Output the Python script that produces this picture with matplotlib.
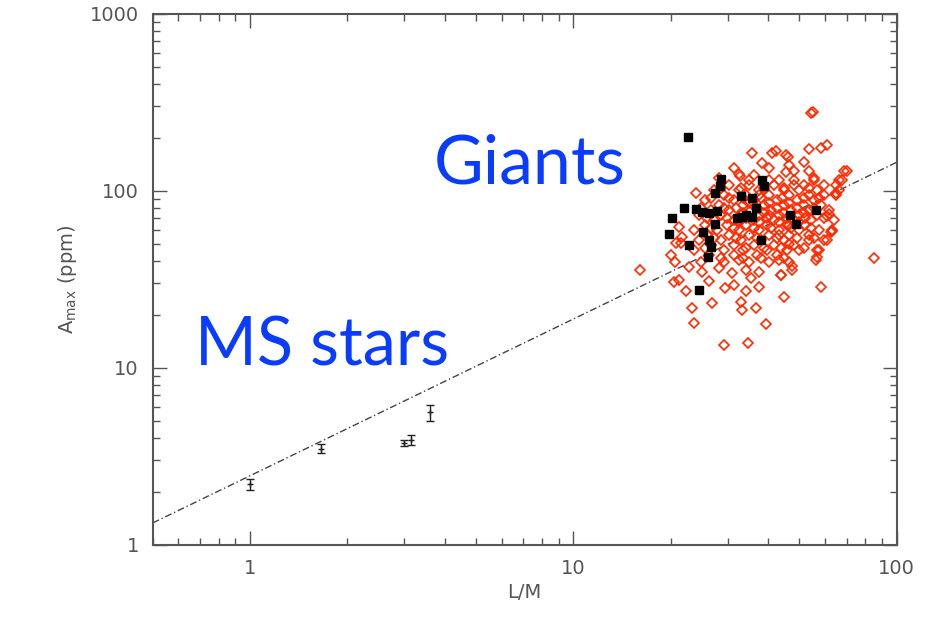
import numpy as np
import matplotlib
matplotlib.use("Agg")
import matplotlib.pyplot as plt
from matplotlib.ticker import LogLocator, NullFormatter, FixedLocator, FixedFormatter

# main-sequence stars (with error bars)
ms_lm = [1.0, 1.66, 3.0, 3.14, 3.6]
ms_amp = [2.2, 3.5, 3.75, 3.9, 5.6]
ms_err = [0.15, 0.2, 0.15, 0.25, 0.6]

# giants, black squares
blk_lm = [22.6, 28.6, 28.4, 27.4, 33.0, 35.7, 38.3, 38.9, 22.0, 24.0,
          25.0, 26.3, 27.8, 20.2, 27.4, 19.8, 25.2, 26.3, 22.8, 26.7,
          26.1, 24.5, 32.1, 34.2, 36.7, 38.0, 46.8, 48.8, 56.2, 33.2,
          35.7]
blk_amp = [202, 117, 107, 97.4, 93.7, 91.3, 115, 107, 80.2, 79.1,
           76.1, 75.1, 77.1, 70.4, 65.1, 57.1, 58.7, 52.9, 49.5, 48.3,
           42.4, 27.6, 70.4, 73.2, 80.2, 52.9, 73.2, 65.1, 78.1, 71.3,
           71.3]

# giants, red open diamonds
red_lm = [55.0, 35.7, 42.3, 45.4, 53.5, 58.5, 60.9, 70.1, 32.8, 24.0,
          66.2, 64.8, 60.9, 63.0, 56.6, 56.2, 85.0, 16.1, 21.2, 21.5,
          20.1, 20.6, 20.5, 21.2, 22.3, 23.3, 23.6, 26.9, 26.3, 29.2,
          34.7, 39.4, 36.7, 33.0, 33.2, 34.2, 29.5, 31.4, 37.5, 44.8,
          43.8, 47.4, 58.5, 22.8, 25.0, 31.0, 35.4, 21.7, 20.8, 24.8,
          28.2, 32.5, 34.2, 40.3, 38.3, 41.1, 46.1, 54.3, 53.5, 48.1,
          45.4, 67.6, 59.5, 55.4, 49.8, 43.2, 53.5, 62.5, 37.5, 32.5,
          # dense core
          30.3, 34.9, 41.7, 48.1, 51.6,
          27.2, 32.5, 37.5, 44.8, 49.8, 56.6,
          29.2, 34.2, 40.3, 46.4, 53.5, 59.5,
          25.5, 31.4, 36.2, 42.6, 49.0, 55.4,
          28.2, 33.5, 38.9, 44.8, 51.6, 58.2,
          26.7, 30.3, 35.4, 40.9, 47.1, 53.5, 61.7,
          24.5, 28.6, 33.0, 37.5, 43.2, 49.8, 56.6,
          27.2, 31.4, 36.2, 41.7, 48.1, 54.3, 63.9,
          25.5, 29.8, 34.2, 39.7, 45.7, 52.0,
          23.6, 27.8, 32.5, 37.5, 43.2, 49.8, 57.4,
          25.9, 30.3, 34.9, 40.3, 46.4, 53.5,
          24.5, 28.6, 33.0, 38.0, 44.8, 59.5,
          26.7, 31.4, 36.2, 41.7, 48.1,
          23.6, 29.2, 33.5, 39.7, 45.7,
          26.3, 31.4, 37.0, 42.6,
          29.2, 34.9, 40.3, 46.4,
          36.0, 40.3, 46.4, 37.5, 32.5, 43.2,
          28.2, 31.4, 36.2, 46.4, 51.6, 43.2, 38.9,
          68.5, 64.8, 66.5, 64.8, 61.7, 63.0, 60.9, 57.4, 56.6, 47.4,
          43.8, 46.4,
          28.6, 33.0, 38.9, 44.8, 53.5,
          26.7, 30.3, 33.5, 38.0, 44.2, 51.6, 57.4,
          24.8, 29.2, 31.9, 37.0, 42.6, 49.0, 55.4,
          25.9, 29.8, 34.2, 39.7, 45.7, 52.0, 59.5,
          26.7, 31.4, 36.2, 40.9, 47.1, 54.3,
          27.2, 31.9, 37.0, 42.6, 49.0, 55.4,
          25.5, 34.2, 38.9, 43.8, 51.6,
          28.6, 33.5, 38.0, 44.8,
          34.9, 40.3, 48.1, 55.4,
          34.9, 40.3, 46.4,
          33.5, 38.9, 44.8, 51.6,
          32.5, 37.5, 43.2, 49.8]
red_amp = [279, 163, 168, 160, 172, 175, 182, 130, 122, 97,
           115, 97, 72.3, 59.4, 46.4, 40.8, 42, 35.8, 62.6, 50.8,
           43.5, 39.7, 30.6, 31.4, 27.2, 21.8, 18.0, 23.3, 31.0, 13.5,
           13.8, 17.7, 21.8, 23.6, 21.3, 27.2, 28.3, 29.4, 28.7, 25.2,
           33.5, 35.8, 28.7, 37.2, 34.9, 34.4, 32.2, 55.0, 50.8, 39.7,
           36.7, 40.8, 35.8, 134, 144, 163, 156, 275, 130, 130,
           128, 115, 108, 118, 46.4, 40.8, 52.9, 58.7, 34.9, 124,
           # dense core
           108, 108, 108, 108, 108,
           101, 101, 101, 101, 101, 101,
           94.9, 94.9, 94.9, 94.9, 94.9, 94.9,
           88.9, 88.9, 88.9, 88.9, 88.9, 88.9,
           83.3, 83.3, 83.3, 83.3, 83.3, 83.3,
           78.1, 78.1, 78.1, 78.1, 78.1, 78.1, 78.1,
           73.2, 73.2, 73.2, 73.2, 73.2, 73.2, 73.2,
           68.6, 68.6, 68.6, 68.6, 68.6, 68.6, 68.6,
           64.3, 64.3, 64.3, 64.3, 64.3, 64.3,
           60.2, 60.2, 60.2, 60.2, 60.2, 60.2, 60.2,
           56.4, 56.4, 56.4, 56.4, 56.4, 56.4,
           52.9, 52.9, 52.9, 52.9, 52.9, 52.9,
           49.5, 49.5, 49.5, 49.5, 49.5,
           46.4, 46.4, 46.4, 46.4, 46.4,
           43.5, 43.5, 43.5, 43.5,
           39.7, 39.7, 39.7, 39.7,
           83, 73, 64, 95, 68.6, 56.4,
           118, 135, 123, 140, 146, 115, 108,
           130, 108, 101, 94.9, 74, 60.2, 52.9, 46.4, 42.5, 37.5,
           33.5, 50,
           104, 104, 104, 104, 104,
           91.3, 91.3, 91.3, 91.3, 91.3, 91.3, 91.3,
           80.2, 80.2, 80.2, 80.2, 80.2, 80.2, 80.2,
           70.4, 70.4, 70.4, 70.4, 70.4, 70.4, 70.4,
           61.8, 61.8, 61.8, 61.8, 61.8, 61.8,
           54.2, 54.2, 54.2, 54.2, 54.2, 54.2,
           47.6, 47.6, 47.6, 47.6, 47.6,
           41.8, 41.8, 41.8, 41.8,
           115, 115, 115, 115,
           85.8, 85.8, 85.8,
           75.1, 75.1, 75.1, 75.1,
           66.4, 66.4, 66.4, 66.4]

# fitted relation (end points)
fit_lm = [0.5, 100]
fit_amp = [1.33, 145]

fig = plt.figure(figsize=(9.37, 6.27), dpi=100)
ax = fig.add_axes([0.163, 0.131, 0.794, 0.847])

ax.plot(fit_lm, fit_amp, color="#444444", lw=1.0, dashes=(5, 2, 1, 2))

ax.plot(red_lm, red_amp, "D", ms=5, mfc="none", mec="#ff2a00", mew=1.2)
ax.plot(blk_lm, blk_amp, "s", ms=6, color="black")

ax.errorbar(ms_lm, ms_amp, yerr=ms_err, fmt="+", ms=5, color="#222222",
            ecolor="#222222", elinewidth=1, capsize=3)

ax.set_xscale("log")
ax.set_yscale("log")
ax.set_xlim(0.5, 100)
ax.set_ylim(1, 1000)

gray = "#555555"
for sp in ax.spines.values():
    sp.set_color(gray)
    sp.set_linewidth(1.5)

ax.xaxis.set_major_locator(FixedLocator([1, 10, 100]))
ax.xaxis.set_major_formatter(FixedFormatter(["1", "10", "100"]))
ax.yaxis.set_major_locator(FixedLocator([1, 10, 100, 1000]))
ax.yaxis.set_major_formatter(FixedFormatter(["1", "10", "100", "1000"]))
ax.xaxis.set_minor_locator(LogLocator(base=10, subs=np.arange(2, 10)))
ax.yaxis.set_minor_locator(LogLocator(base=10, subs=np.arange(2, 10)))
ax.xaxis.set_minor_formatter(NullFormatter())
ax.yaxis.set_minor_formatter(NullFormatter())
ax.tick_params(which="both", direction="in", top=True, right=True,
               color=gray, width=1.0, labelcolor=gray, labelsize=14, pad=10)
ax.tick_params(which="major", length=10)
ax.tick_params(which="minor", length=5)

ax.set_xlabel("L/M", color=gray, fontsize=14, labelpad=4)
ax.set_ylabel("A$_{\\rm max}$ (ppm)", color=gray, fontsize=14, labelpad=8)

blue = "#0a3cff"
fig.text(434 / 937, 1 - 183 / 627, "Giants", color=blue, fontsize=49,
         family="Lato", va="baseline", ha="left")
fig.text(195 / 937, 1 - 365 / 627, "MS stars", color=blue, fontsize=48,
         family="Lato", va="baseline", ha="left")

fig.savefig("out.png", dpi=100)
